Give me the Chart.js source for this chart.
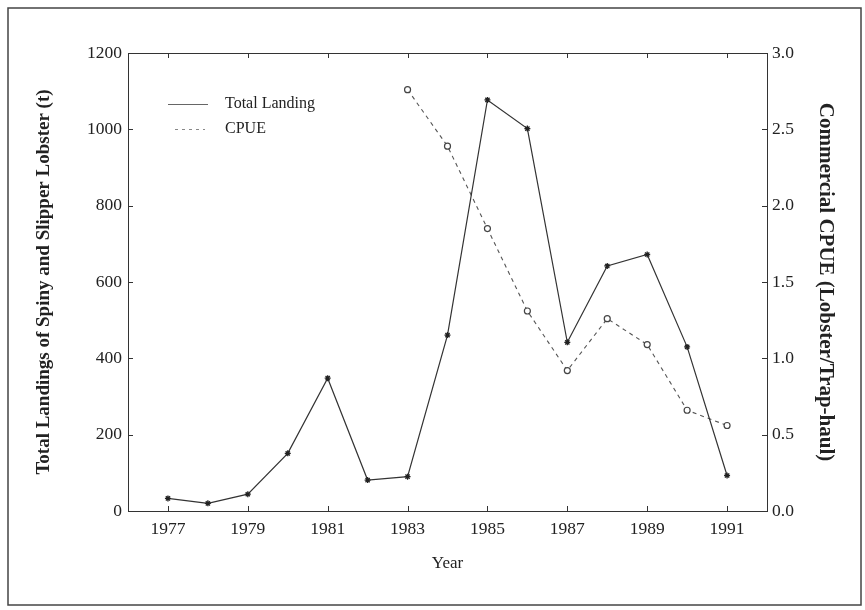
<!DOCTYPE html>
<html><head><meta charset="utf-8">
<script src="https://cdn.jsdelivr.net/npm/chart.js@4"></script>
<style>html,body{margin:0;padding:0;background:#fff}#wrap{position:relative;width:865px;height:610px}</style>
</head><body><div id="wrap"><canvas id="c" width="865" height="610"></canvas></div>
<script>
const years = [1977,1978,1979,1980,1981,1982,1983,1984,1985,1986,1987,1988,1989,1990,1991];
const landings = [33,20,44,151,348,81,90,461,1077,1002,442,642,672,430,93];
const cpueYears = [1983,1984,1985,1986,1987,1988,1989,1990,1991];
const cpue = [2.76,2.39,1.85,1.31,0.92,1.26,1.09,0.66,0.56];
const xTickLabels = [1977,1979,1981,1983,1985,1987,1989,1991];
const leftTicks = [0,200,400,600,800,1000,1200];
const rightTicks = [0,0.5,1.0,1.5,2.0,2.5,3.0];

const SERIF = "'Liberation Serif','Times New Roman',serif";
const INK = '#222';

const deco = {
  id: 'deco',
  beforeDraw(chart){
    const ctx = chart.ctx;
    ctx.save(); ctx.fillStyle = '#fff'; ctx.fillRect(0,0,chart.width,chart.height); ctx.restore();
  },
  afterDraw(chart){
    const {ctx, chartArea:a, scales} = chart;
    ctx.save();
    ctx.strokeStyle = '#444'; ctx.lineWidth = 1.5;
    ctx.strokeRect(8, 8, 853, 597);
    ctx.strokeStyle = '#333'; ctx.lineWidth = 1;
    ctx.strokeRect(Math.round(a.left)+0.5, Math.round(a.top)+0.5, Math.round(a.right-a.left), Math.round(a.bottom-a.top));
    const T = 5;
    ctx.beginPath();
    scales.x.ticks.forEach(t => {
      const px = Math.round(scales.x.getPixelForValue(t.value)) + 0.5;
      ctx.moveTo(px, a.bottom); ctx.lineTo(px, a.bottom - T);
      ctx.moveTo(px, a.top); ctx.lineTo(px, a.top + T);
    });
    scales.y.ticks.forEach(t => {
      const py = Math.round(scales.y.getPixelForValue(t.value)) + 0.5;
      ctx.moveTo(a.left, py); ctx.lineTo(a.left + T, py);
    });
    scales.y2.ticks.forEach(t => {
      const py = Math.round(scales.y2.getPixelForValue(t.value)) + 0.5;
      ctx.moveTo(a.right, py); ctx.lineTo(a.right - T, py);
    });
    ctx.stroke();
    const ds = chart.data.datasets;
    ctx.font = '16px ' + SERIF;
    ctx.fillStyle = INK; ctx.textBaseline = 'middle'; ctx.textAlign = 'left';
    ctx.strokeStyle = '#666'; ctx.lineWidth = 1;
    ctx.beginPath(); ctx.moveTo(168, 104.5); ctx.lineTo(208, 104.5); ctx.stroke();
    ctx.fillText(ds[0].label, 225, 104);
    ctx.setLineDash([3,4]); ctx.strokeStyle = '#888';
    ctx.beginPath(); ctx.moveTo(175, 129.5); ctx.lineTo(205, 129.5); ctx.stroke();
    ctx.setLineDash([]);
    ctx.fillText(ds[1].label, 225, 129);
    ctx.restore();
  }
};

new Chart(document.getElementById('c'), {
  type: 'line',
  data: {
    datasets: [
      {
        label: 'Total Landing',
        data: years.map((y,i) => ({x:y, y:landings[i]})),
        yAxisID: 'y',
        borderColor: '#333', borderWidth: 1.2,
        pointStyle: 'star', pointRadius: 3, pointBorderColor: '#222', pointBorderWidth: 1.3,
        pointBackgroundColor: '#222', tension: 0, fill: false
      },
      {
        label: 'CPUE',
        data: cpueYears.map((y,i) => ({x:y, y:cpue[i]})),
        yAxisID: 'y2',
        borderColor: '#555', borderWidth: 1.1, borderDash: [4,4],
        pointStyle: 'circle', pointRadius: 3, pointBorderColor: '#444', pointBorderWidth: 1.2,
        pointBackgroundColor: '#fff', tension: 0, fill: false
      }
    ]
  },
  options: {
    responsive: false, animation: false, devicePixelRatio: 1,
    layout: { padding: { top: 53, left: 0, right: 0, bottom: 0 } },
    plugins: { legend: { display: false }, tooltip: { enabled: false } },
    scales: {
      x: {
        type: 'linear', min: 1976, max: 1992,
        afterBuildTicks: s => { s.ticks = xTickLabels.map(v => ({value: v})); },
        afterFit: s => { s.height = 99; },
        grid: { display: false, drawTicks: false },
        border: { display: false },
        ticks: { color: INK, font: { family: SERIF, size: 17.5 }, padding: 8, callback: v => String(v) },
        title: { display: true, text: 'Year', color: INK, font: { family: SERIF, size: 17 }, padding: { top: 0, bottom: 36 } }
      },
      y: {
        position: 'left', min: 0, max: 1200,
        afterBuildTicks: s => { s.ticks = leftTicks.map(v => ({value: v})); },
        afterFit: s => { s.width = 128; },
        grid: { display: false, drawTicks: false },
        border: { display: false },
        ticks: { color: INK, font: { family: SERIF, size: 17.5 }, padding: 6, callback: v => String(v) },
        title: { display: true, text: 'Total Landings of Spiny and Slipper Lobster (t)', color: INK, font: { family: SERIF, size: 19, weight: 'bold' }, padding: { top: 33, bottom: 0 } }
      },
      y2: {
        position: 'right', min: 0, max: 3,
        afterBuildTicks: s => { s.ticks = rightTicks.map(v => ({value: v})); },
        afterFit: s => { s.width = 98; },
        grid: { display: false, drawTicks: false },
        border: { display: false },
        ticks: { color: INK, font: { family: SERIF, size: 17.5 }, padding: 5, callback: v => Number(v).toFixed(1) },
        title: { display: true, text: 'Commercial CPUE (Lobster/Trap-haul)', color: INK, font: { family: SERIF, size: 21, weight: 'bold' }, padding: { top: 27, bottom: 0 } }
      }
    }
  },
  plugins: [deco]
});
</script>
</body></html>
